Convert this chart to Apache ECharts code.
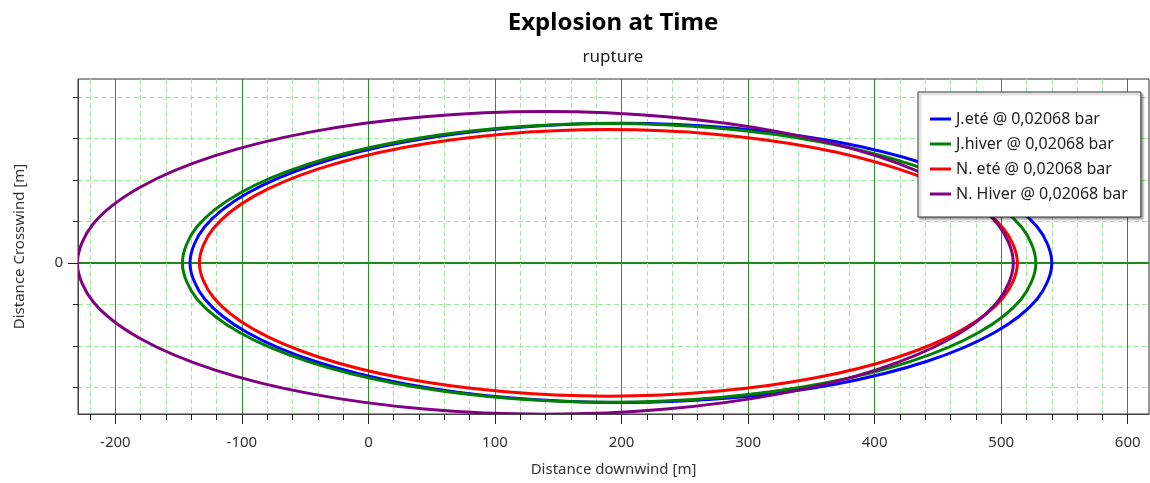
<!DOCTYPE html>
<html>
<head>
<meta charset="utf-8">
<script src="https://cdn.jsdelivr.net/npm/echarts@6/dist/echarts.min.js"></script>
<style>
  html, body { margin: 0; padding: 0; background: #fff; }
  #chart { width: 1150px; height: 483px; }
</style>
</head>
<body>
<div id="chart"></div>
<script>
// contour points, [downwind m, crosswind m], closed loops
var jEte = [[540.0,0],[528.4,17.4],[494.4,33.7],[440.3,47.7],[369.8,58.4],[287.6,65.1],[199.5,67.4],[111.4,65.1],[29.3,58.4],[-41.3,47.7],[-95.4,33.7],[-129.4,17.4],[-141.0,0],[-129.4,-17.4],[-95.4,-33.7],[-41.3,-47.7],[29.3,-58.4],[111.4,-65.1],[199.5,-67.4],[287.6,-65.1],[369.8,-58.4],[440.3,-47.7],[494.4,-33.7],[528.4,-17.4]];
var jHiver = [[527.4,0],[515.9,17.4],[482.2,33.6],[428.6,47.5],[358.8,58.2],[277.5,64.9],[190.2,67.2],[102.9,64.9],[21.6,58.2],[-48.2,47.5],[-101.8,33.6],[-135.5,17.4],[-147.0,0],[-135.5,-17.4],[-101.8,-33.6],[-48.2,-47.5],[21.6,-58.2],[102.9,-64.9],[190.2,-67.2],[277.5,-64.9],[358.8,-58.2],[428.6,-47.5],[482.2,-33.6],[515.9,-17.4]];
var nEte = [[512.8,0],[501.8,16.6],[469.5,32.2],[418.1,45.5],[351.2,55.7],[273.2,62.1],[189.6,64.3],[106.0,62.1],[28.0,55.7],[-38.9,45.5],[-90.3,32.2],[-122.6,16.6],[-133.6,0],[-122.6,-16.6],[-90.3,-32.2],[-38.9,-45.5],[28.0,-55.7],[106.0,-62.1],[189.6,-64.3],[273.2,-62.1],[351.2,-55.7],[418.1,-45.5],[469.5,-32.2],[501.8,-16.6]];
var nHiver = [[509.6,0],[497.0,18.9],[460.0,36.5],[401.3,51.6],[324.7,63.2],[235.5,70.5],[139.8,73.0],[44.1,70.5],[-45.1,63.2],[-121.7,51.6],[-180.4,36.5],[-217.4,18.9],[-230.0,0],[-217.4,-18.9],[-180.4,-36.5],[-121.7,-51.6],[-45.1,-63.2],[44.1,-70.5],[139.8,-73.0],[235.5,-70.5],[324.7,-63.2],[401.3,-51.6],[460.0,-36.5],[497.0,-18.9]];

var seriesNames = ['J.eté @ 0,02068 bar', 'J.hiver @ 0,02068 bar', 'N. eté @ 0,02068 bar', 'N. Hiver @ 0,02068 bar'];
var seriesColors = ['#0000ff', '#008000', '#ff0000', '#800080'];

// ticks
var xMinorTicks = [-220,-200,-180,-160,-140,-120,-100,-80,-60,-40,-20,0,20,40,60,80,100,120,140,160,180,200,220,240,260,280,300,320,340,360,380,400,420,440,460,480,500,520,540,560,580,600];
var xMajorTicks = [-200,-100,0,100,200,300,400,500,600];
var yTicks = [-60,-40,-20,0,20,40,60,80];
var yLabels = [0];

var font = 'Noto Sans';
var chart = echarts.init(document.getElementById('chart'), null, { renderer: 'canvas' });

var dashed = { color: '#9ee89e', width: 1, type: [5, 3] };
var major = { color: '#2a962a', width: 1, type: 'solid' };

// one closed smooth contour per series, placed through the axes
function contourSeries(pts, i) {
  return {
    name: seriesNames[i],
    type: 'custom',
    coordinateSystem: 'cartesian2d',
    clip: true,
    data: pts,
    encode: { x: 0, y: 1 },
    itemStyle: { color: seriesColors[i] },
    renderItem: function (params, api) {
      if (params.dataIndex !== 0) return null;
      var points = pts.map(function (p) { return api.coord(p); });
      return {
        type: 'polygon',
        shape: { points: points, smooth: 0.33, smoothConstraint: false },
        style: { fill: 'none', stroke: seriesColors[i], lineWidth: 3 }
      };
    },
    z: 3
  };
}

var option = {
  animation: false,
  title: [
    {
      text: 'Explosion at Time',
      left: 608, top: 6, textAlign: 'center',
      textStyle: { fontFamily: font, fontSize: 24, fontWeight: 'bold', color: '#000' }
    },
    {
      text: 'rupture',
      left: 608, top: 44, textAlign: 'center',
      textStyle: { fontFamily: font, fontSize: 17, fontWeight: 'normal', color: '#222' }
    }
  ],
  legend: {
    orient: 'vertical',
    left: 918, top: 92,
    padding: [19, 13, 15, 12],
    itemGap: 9,
    itemWidth: 21,
    itemHeight: 3,
    icon: 'rect',
    backgroundColor: '#fff',
    borderColor: '#333',
    borderWidth: 1,
    shadowColor: 'rgba(0,0,0,0.35)',
    shadowBlur: 2,
    shadowOffsetX: 2,
    shadowOffsetY: 2,
    textStyle: { fontFamily: font, fontSize: 16, lineHeight: 16, color: '#222' },
    data: seriesNames
  },
  grid: {
    left: 78, top: 79, right: 1, bottom: 69,
    show: true, borderColor: '#333', borderWidth: 1, backgroundColor: '#fff'
  },
  xAxis: [
    {
      type: 'value', position: 'bottom',
      min: -229.5, max: 616.8,
      name: 'Distance downwind [m]', nameLocation: 'middle', nameGap: 48,
      nameTextStyle: { fontFamily: font, fontSize: 15, color: '#333' },
      axisLine: { show: true, onZero: false, lineStyle: { color: '#444' } },
      axisTick: { show: true, length: 6, customValues: xMinorTicks, lineStyle: { color: '#222' } },
      axisLabel: { show: false },
      splitLine: { show: true, lineStyle: dashed }
    },
    {
      type: 'value', position: 'bottom',
      min: -229.5, max: 616.8,
      axisLine: { show: false, onZero: false },
      axisTick: { show: true, length: 10, customValues: xMajorTicks, lineStyle: { color: '#222' } },
      axisLabel: { show: true, customValues: xMajorTicks, margin: 21, fontFamily: font, fontSize: 15, color: '#333' },
      splitLine: { show: true, lineStyle: major }
    }
  ],
  yAxis: [
    {
      type: 'value', position: 'left',
      min: -72.9, max: 88.7,
      name: 'Distance Crosswind [m]', nameLocation: 'middle', nameGap: 51,
      nameTextStyle: { fontFamily: font, fontSize: 15, color: '#333' },
      axisLine: { show: true, onZero: false, lineStyle: { color: '#444' } },
      axisTick: { show: true, length: 5, customValues: yTicks, lineStyle: { color: '#222' } },
      axisLabel: { show: false },
      splitLine: { show: true, lineStyle: dashed }
    },
    {
      type: 'value', position: 'left',
      min: -72.9, max: 88.7,
      axisLine: { show: false, onZero: false },
      axisTick: { show: true, length: 10, customValues: yLabels, lineStyle: { color: '#222' } },
      axisLabel: { show: true, customValues: yLabels, margin: 15, fontFamily: font, fontSize: 15, color: '#333' },
      splitLine: { show: true, lineStyle: { color: '#1c8a1c', width: 2, type: 'solid' } }
    }
  ],
  series: [jEte, jHiver, nEte, nHiver].map(contourSeries)
};

chart.setOption(option);
</script>
</body>
</html>
